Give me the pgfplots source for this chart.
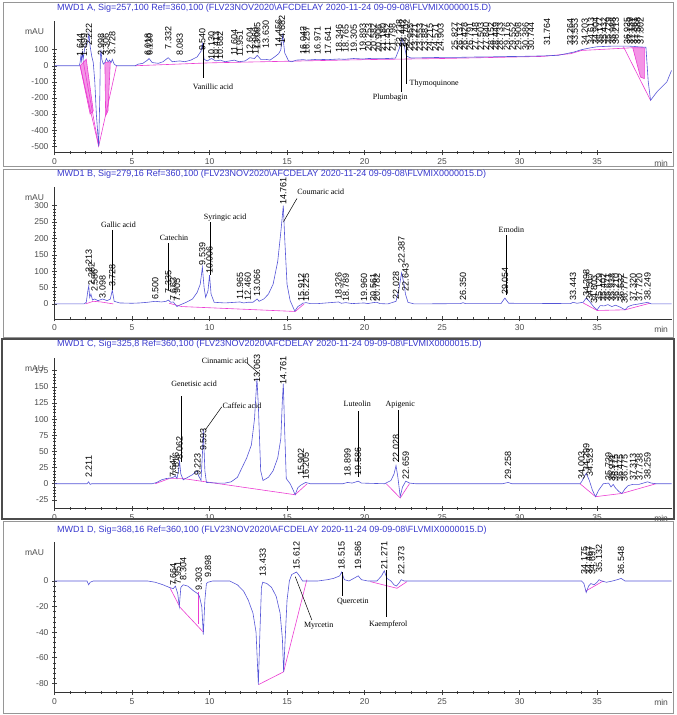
\documentclass[border=0pt]{standalone}
\usepackage{fontspec}
\setmainfont{Liberation Sans}
\newfontfamily\annfont{Liberation Serif}
\usepackage{pgfplots}
\pgfplotsset{compat=1.18}

\definecolor{trace}{RGB}{85,85,215}
\definecolor{integ}{RGB}{235,60,210}
\definecolor{titleblue}{RGB}{55,55,205}
\definecolor{framegray}{RGB}{150,150,150}

\pgfplotsset{chrom/.style={
    scale only axis, width=617pt, xmin=0, xmax=39.8,
    anchor=south west, clip=false,
    axis x line*=bottom, axis y line*=left,
    axis line style={black!80, line width=0.6pt},
    xtick={0,5,...,35}, minor x tick num=4, minor y tick num=4,
    tick align=center, major tick length=5pt, minor tick length=3pt,
    tick style={black!75, line width=0.5pt},
    ticklabel style={font=\fontsize{8.5}{10}\selectfont, text=black!70},
    /pgf/number format/assume math mode=true,
    scaled y ticks=false,
    every axis plot/.append style={line width=0.6pt},
  }}
\tikzset{
  rtl/.style={rotate=90, anchor=west, inner sep=0.6pt, font=\fontsize{9}{9}\selectfont},
  annl/.style={font=\annfont\fontsize{8}{9}\selectfont, inner sep=0},
}
% retention time label: x, base, text
\newcommand\rt[3]{\node[rtl] at (axis cs:#1,#2) {#3};}
\newcommand\ann[3]{\node[annl] at (axis cs:#1,#2) {#3};}
\newcommand\unitlabels{%
  \node[anchor=north east, font=\fontsize{8.5}{10}\selectfont, text=black!70, xshift=-7pt] at (rel axis cs:0,0.97) {mAU};
  \node[anchor=north east, font=\fontsize{8.5}{10}\selectfont, text=black!70, yshift=-4pt] at (rel axis cs:1,0) {min};}

\begin{document}
\begin{tikzpicture}
\useasboundingbox (0,0) rectangle (677pt,715pt);

% ---------------- panel A ----------------
\begin{axis}[chrom, at={(54.5pt,562.3pt)}, height=131.7pt,
  ymin=-540, ymax=278, ytick={-500,-400,...,100}]
\addplot[integ, fill=integ!55] coordinates {(1.65,0) (2.05,40) (2.5,-280) (2.3,-300) (1.65,0)};
\addplot[integ, fill=integ!55] coordinates {(3.25,20) (3.6,25) (3.45,-280) (3.3,-310) (3.25,20)};
\addplot[integ, fill=integ!55] coordinates {(37.3,112) (38.05,112) (38.05,-80) (37.8,-70) (37.3,112)};
\addplot[integ] coordinates {(1.65,0) (2.85,-500) (4.0,0)};
\addplot[integ] coordinates {(1.85,30) (2.85,-500)};
\addplot[integ] coordinates {(36.7,118) (38.45,-215)};
\addplot[integ] coordinates {(5.2,0) (10,18) (15,28) (20,38) (25,45) (30,55) (31.5,58) (33.3,75) (34,95) (37.3,112)};
\addplot[trace] coordinates {
(0,0) (1.60,0) (1.65,20) (1.70,60) (1.75,30) (1.80,90) (1.85,40) (1.95,110) (2.05,130) (2.15,150)
(2.22,200) (2.30,120) (2.40,60) (2.50,20) (2.60,-100) (2.70,-300) (2.85,-500) (2.92,-200) (2.96,60)
(3.00,100) (3.05,40) (3.15,10) (3.25,20) (3.35,45) (3.45,25) (3.55,35) (3.65,20) (3.73,40) (3.85,10)
(4.00,0) (5.20,0) (5.40,10) (5.70,15) (6.00,35) (6.10,45) (6.30,20) (6.70,15) (7.00,25) (7.33,50)
(7.60,25) (8.08,30) (8.40,25) (8.80,35) (9.20,55) (9.45,90) (9.54,135) (9.65,40) (9.85,30) (10.13,45)
(10.4,30) (10.7,35) (11.0,25) (11.3,30) (11.6,35) (11.9,25) (12.3,30) (12.6,50) (12.9,45) (13.08,65)
(13.3,40) (13.63,40) (13.9,35) (14.2,55) (14.46,75) (14.6,100) (14.72,190) (14.85,80) (15.1,30)
(15.3,25) (15.6,35) (16.04,38) (16.25,35) (16.97,40) (17.64,38) (18.35,42) (18.7,40) (19.3,45)
(19.9,42) (20.25,45) (20.9,44) (21.5,45) (22.0,48) (22.25,110) (22.40,170) (22.55,130) (22.7,60)
(23.0,48) (24,50) (25,52) (26,52) (27,54) (28,55) (29,57) (30,58) (31,60) (31.76,62) (32.5,65)
(33.26,80) (33.5,85) (34.0,100) (34.5,110) (35,118) (35.5,120) (36,122) (36.5,122) (37,122)
(37.4,120) (37.6,118) (38.15,115) (38.3,-100) (38.45,-215) (38.88,-160) (39.5,-100) (39.8,-30)};
% leader lines
\addplot[black, line width=0.5pt] coordinates {(9.57,141) (9.57,-78)};
\addplot[black, line width=0.5pt] coordinates {(22.37,141) (22.37,-165)};
\addplot[black, line width=0.5pt] coordinates {(22.69,141) (22.69,-115)};
\ann{10.23}{-132}{Vanillic acid}
\ann{21.66}{-195}{Plumbagin}
\node[annl, anchor=west] at (axis cs:22.9,-112) {Thymoquinone};
\rt{1.644}{55}{1.644} \rt{1.899}{55}{1.899} \rt{2.222}{120}{2.222} \rt{2.998}{56}{2.998}
\rt{3.306}{56}{3.306} \rt{3.728}{66}{3.728} \rt{6.018}{56}{6.018} \rt{6.130}{56}{6.130}
\rt{7.332}{97}{7.332} \rt{8.083}{56}{8.083} \rt{9.540}{87}{9.540} \rt{10.130}{35}{10.130}
\rt{10.413}{35}{10.413} \rt{10.682}{35}{10.682} \rt{11.604}{56}{11.604} \rt{11.951}{50}{11.951}
\rt{12.604}{62}{12.604} \rt{12.960}{62}{12.960} \rt{13.085}{93}{13.085} \rt{13.630}{105}{13.630}
\rt{14.456}{110}{14.456} \rt{14.682}{135}{14.682}
\rt{16.042}{66}{16.042} \rt{16.257}{66}{16.257} \rt{16.971}{66}{16.971} \rt{17.641}{66}{17.641}
\rt{18.346}{78}{18.346} \rt{18.765}{78}{18.765} \rt{19.305}{78}{19.305} \rt{19.893}{85}{19.893}
\rt{20.253}{85}{20.253} \rt{20.582}{85}{20.582} \rt{20.906}{78}{20.906} \rt{21.180}{85}{21.180}
\rt{21.452}{85}{21.452} \rt{21.798}{85}{21.798} \rt{22.238}{110}{22.238} \rt{22.442}{110}{22.442}
\rt{22.702}{110}{22.702} \rt{22.955}{85}{22.955} \rt{23.221}{85}{23.221} \rt{23.553}{85}{23.553}
\rt{23.887}{85}{23.887} \rt{24.215}{85}{24.215} \rt{24.571}{85}{24.571} \rt{24.903}{85}{24.903}
\rt{25.827}{90}{25.827} \rt{26.137}{90}{26.137} \rt{26.428}{90}{26.428} \rt{26.791}{90}{26.791}
\rt{27.148}{90}{27.148} \rt{27.503}{90}{27.503} \rt{27.840}{90}{27.840} \rt{28.152}{90}{28.152}
\rt{28.449}{90}{28.449} \rt{28.733}{90}{28.733} \rt{29.176}{90}{29.176} \rt{29.552}{90}{29.552}
\rt{29.908}{90}{29.908} \rt{30.386}{90}{30.386} \rt{30.744}{90}{30.744} \rt{31.764}{118}{31.764}
\rt{33.264}{118}{33.264} \rt{33.553}{118}{33.553} \rt{34.203}{118}{34.203} \rt{34.613}{125}{34.613}
\rt{34.904}{125}{34.904} \rt{35.177}{125}{35.177} \rt{35.432}{125}{35.432} \rt{35.729}{125}{35.729}
\rt{35.988}{125}{35.988} \rt{36.213}{125}{36.213} \rt{36.925}{125}{36.925} \rt{37.139}{125}{37.139}
\rt{37.361}{125}{37.361} \rt{37.588}{125}{37.588} \rt{37.802}{125}{37.802}
\unitlabels
\end{axis}

% ---------------- panel B ----------------
\begin{axis}[chrom, at={(54.5pt,396pt)}, height=132pt,
  ymin=-46, ymax=357, ytick={0,50,...,300}]
\addplot[integ] coordinates {(2.0,0) (2.5,8) (3.0,6) (3.8,0)};
\addplot[integ] coordinates {(7.4,2) (8.2,-8) (15.53,-23) (16.1,0)};
\addplot[integ] coordinates {(34.1,3) (35.0,-20) (36.8,-18) (38.4,2)};
\addplot[trace] coordinates {
(0,0) (1.9,0) (2.05,5) (2.15,40) (2.21,55) (2.27,20) (2.35,30) (2.45,12) (2.6,15) (2.8,10) (3.1,15)
(3.4,10) (3.6,15) (3.73,42) (3.85,8) (4.2,3) (5.0,2) (5.5,3) (6.0,5) (6.5,8) (6.9,6) (7.2,8)
(7.34,12) (7.5,5) (7.66,6) (7.9,-8) (8.1,-3) (8.5,5) (8.9,15) (9.2,35) (9.4,60) (9.54,112)
(9.65,50) (9.75,20) (9.9,40) (10.0,88) (10.1,30) (10.3,5) (11,3) (11.96,6) (12.2,3) (12.46,5)
(12.8,5) (13.07,15) (13.2,8) (13.5,15) (13.8,30) (14.1,60) (14.4,130) (14.6,220) (14.76,300)
(14.85,200) (15.0,60) (15.2,10) (15.5,-22) (15.7,-8) (15.91,-2) (16.0,2) (16.23,4) (16.5,1)
(17,1) (18.33,6) (18.5,2) (18.79,4) (19.2,1) (19.96,3) (20.2,1) (20.56,4) (20.78,5) (21.0,1)
(21.5,0) (22.03,8) (22.2,40) (22.39,95) (22.55,60) (22.64,30) (22.8,5) (23.2,0) (26.2,1)
(26.35,4) (26.5,1) (28.8,1) (29.05,18) (29.3,2) (33.3,1) (33.44,5) (33.7,2) (34.1,5) (34.3,18)
(34.5,8) (34.8,-10) (35.0,-18) (35.2,-5) (35.45,-6) (35.7,-2) (35.95,-8) (36.2,-4) (36.5,-10)
(36.8,-18) (37.0,-8) (37.3,-3) (37.7,0) (38.25,5) (38.5,0) (39.8,0)};
\addplot[black, line width=0.5pt] coordinates {(3.73,226) (3.73,43)};
\addplot[black, line width=0.5pt] coordinates {(7.31,186) (7.31,43)};
\addplot[black, line width=0.5pt] coordinates {(10.04,250) (10.04,88)};
\addplot[black, line width=0.5pt] coordinates {(15.64,322) (14.77,251)};
\addplot[black, line width=0.5pt] coordinates {(29.13,210) (29.13,27)};
\ann{4.13}{241}{Gallic acid}
\ann{7.71}{201}{Catechin}
\ann{11.0}{265}{Syringic acid}
\node[annl, anchor=west] at (axis cs:15.65,341) {Coumaric acid};
\ann{29.47}{226}{Emodin}
\rt{2.213}{95}{2.213} \rt{2.382}{55}{2.382} \rt{2.586}{35}{2.586} \rt{3.098}{15}{3.098}
\rt{3.728}{50}{3.728} \rt{6.500}{10}{6.500} \rt{7.335}{30}{7.335} \rt{7.663}{8}{7.663}
\rt{7.905}{5}{7.905} \rt{9.539}{115}{9.539} \rt{10.006}{90}{10.006} \rt{11.965}{12}{11.965}
\rt{12.460}{8}{12.460} \rt{13.066}{20}{13.066} \rt{14.761}{300}{14.761} \rt{15.912}{5}{15.912}
\rt{16.225}{5}{16.225} \rt{18.326}{10}{18.326} \rt{18.789}{5}{18.789} \rt{19.960}{5}{19.960}
\rt{20.561}{5}{20.561} \rt{20.782}{5}{20.782} \rt{22.028}{12}{22.028} \rt{22.387}{120}{22.387}
\rt{22.643}{37}{22.643} \rt{26.350}{8}{26.350} \rt{29.054}{25}{29.054} \rt{33.443}{8}{33.443}
\rt{34.298}{20}{34.298} \rt{34.517}{8}{34.517} \rt{34.803}{0}{34.803} \rt{35.129}{5}{35.129}
\rt{35.402}{5}{35.402} \rt{35.671}{5}{35.671} \rt{35.938}{5}{35.938} \rt{36.210}{5}{36.210}
\rt{36.532}{5}{36.532} \rt{36.777}{0}{36.777} \rt{37.320}{5}{37.320} \rt{37.720}{5}{37.720}
\rt{38.249}{8}{38.249}
\unitlabels
\end{axis}

% ---------------- panel C ----------------
\begin{axis}[chrom, at={(54.5pt,206.7pt)}, height=150.6pt,
  ymin=-38, ymax=195, ytick={-25,0,...,175}]
\addplot[integ] coordinates {(6.5,0) (7.4,8) (8.3,8) (15.52,-17) (16.3,0)};
\addplot[integ] coordinates {(21.4,0) (22.3,-22) (22.9,0)};
\addplot[integ] coordinates {(33.9,0) (34.9,-20) (36.6,-15) (38.8,0)};
\addplot[trace] coordinates {
(0,0) (2.1,0) (2.2,3) (2.3,-1) (2.4,0) (6.3,0) (6.6,2) (6.9,6) (7.2,8) (7.5,9) (7.65,10) (7.8,12)
(7.9,8) (8.0,20) (8.06,36) (8.15,15) (8.3,6) (8.6,10) (8.9,14) (9.2,20) (9.3,12) (9.45,5)
(9.55,50) (9.6,84) (9.7,20) (9.8,2) (10.5,1) (11.0,1) (11.4,3) (11.8,10) (12.1,25) (12.4,40)
(12.7,60) (12.9,100) (13.0,140) (13.06,163) (13.15,120) (13.3,20) (13.45,5) (13.8,10) (14.1,20)
(14.4,40) (14.6,70) (14.7,130) (14.76,155) (14.85,80) (14.95,8) (15.2,0) (15.4,-10) (15.52,-17)
(15.7,-6) (15.9,-2) (16.2,2) (16.5,0) (18.6,0) (18.9,2) (19.2,1) (19.59,4) (19.8,1) (21.3,0)
(21.7,5) (21.9,15) (22.03,28) (22.15,10) (22.3,-20) (22.45,-5) (22.66,4) (22.9,1) (23.3,0)
(28.9,0) (29.26,2) (29.5,0) (33.9,0) (34.0,3) (34.2,12) (34.3,16) (34.5,5) (34.7,-10) (34.9,-20)
(35.1,-10) (35.4,0) (35.74,1) (35.9,-5) (36.04,-1) (36.17,-6) (36.4,-12) (36.6,-15) (36.8,-8)
(37.0,-3) (37.3,-1) (37.7,-1) (38.26,3) (38.5,1) (38.8,0) (39.8,0)};
\addplot[black, line width=0.5pt] coordinates {(8.17,135) (8.17,34)};
\addplot[black, line width=0.5pt] coordinates {(12.41,187) (13.16,171)};
\addplot[black, line width=0.5pt] coordinates {(10.79,119) (9.72,83)};
\addplot[black, line width=0.5pt] coordinates {(19.61,112) (19.61,11)};
\addplot[black, line width=0.5pt] coordinates {(22.16,114) (22.16,34)};
\ann{9.0}{155}{Genetisic acid}
\ann{11.0}{190}{Cinnamic acid}
\ann{12.1}{120}{Caffeic acid}
\ann{19.53}{123}{Luteolin}
\ann{22.3}{123}{Apigenic}
\rt{2.211}{8}{2.211} \rt{7.647}{8}{7.647} \rt{7.816}{12}{7.816} \rt{8.062}{37}{8.062}
\rt{9.223}{11}{9.223} \rt{9.593}{50}{9.593} \rt{13.063}{156}{13.063} \rt{14.761}{153}{14.761}
\rt{15.902}{11}{15.902} \rt{16.205}{5}{16.205} \rt{18.899}{10}{18.899} \rt{19.586}{12}{19.586}
\rt{22.028}{32}{22.028} \rt{22.659}{6}{22.659} \rt{29.258}{6}{29.258} \rt{34.003}{6}{34.003}
\rt{34.299}{18}{34.299} \rt{34.523}{10}{34.523} \rt{35.739}{4}{35.739} \rt{35.971}{2}{35.971}
\rt{36.175}{2}{36.175} \rt{36.475}{2}{36.475} \rt{36.775}{2}{36.775} \rt{37.313}{3}{37.313}
\rt{37.738}{3}{37.738} \rt{38.259}{5}{38.259}
\unitlabels
\end{axis}

% ---------------- panel D ----------------
\begin{axis}[chrom, at={(54.5pt,22.7pt)}, height=150.6pt,
  ymin=-87, ymax=30.7, ytick={-80,-60,...,0}]
\addplot[integ] coordinates {(7.46,-5.7) (8.1,-20.6) (9.6,-40)};
\addplot[integ] coordinates {(9.26,-9) (9.26,-34)};
\addplot[integ] coordinates {(13.16,-81) (14.78,-71) (16.28,1)};
\addplot[integ] coordinates {(20.37,-0.5) (22.09,-5.7) (22.74,-0.5)};
\addplot[integ] coordinates {(34.25,-8) (35.4,0)};
\addplot[trace] coordinates {
(0,0) (2.1,0) (2.2,-3) (2.3,-1) (2.5,0) (6.0,0) (6.5,-1) (7.0,-3) (7.4,-5) (7.66,-6) (7.8,-4)
(7.95,-10) (8.05,-20) (8.15,-5) (8.3,-3) (8.6,-4) (9.0,-8) (9.25,-10) (9.35,-12) (9.5,-20)
(9.6,-42) (9.7,-15) (9.8,-2) (9.9,-1) (10.2,0) (11.3,0) (11.8,-3) (12.2,-8) (12.5,-15) (12.8,-25)
(13.0,-40) (13.15,-81) (13.25,-40) (13.35,-5) (13.43,-1) (13.7,-2) (14.0,-5) (14.3,-12)
(14.55,-25) (14.7,-45) (14.78,-71) (14.9,-40) (15.0,-15) (15.15,0) (15.3,5) (15.61,7) (15.8,4)
(16.0,0) (17.0,0) (17.6,1) (18.0,2) (18.4,4) (18.52,7) (18.7,1) (19.0,0) (19.3,2) (19.59,4)
(19.8,1) (20.2,0) (20.8,0) (21.1,4) (21.27,8) (21.45,2) (21.7,0) (21.9,-3) (22.05,-4) (22.2,-2)
(22.37,1) (22.55,0) (23.0,0) (34.0,0) (34.15,-2) (34.3,-9) (34.45,-4) (34.6,-2) (34.8,-3)
(35.0,-1) (35.13,1) (35.3,0) (35.6,-1) (36.0,0) (36.3,1) (36.55,2) (36.8,0) (38.5,0) (39.8,0)};
\addplot[black, line width=0.5pt] coordinates {(16.6,-30.5) (15.53,3.4)};
\addplot[black, line width=0.5pt] coordinates {(18.54,7) (18.54,-12)};
\addplot[black, line width=0.5pt] coordinates {(21.38,8.6) (21.38,-28)};
\ann{17.04}{-35}{Myrcetin}
\ann{19.24}{-16}{Quercetin}
\ann{21.53}{-34}{Kaempferol}
\rt{7.664}{-4.4}{7.664} \rt{7.951}{-3}{7.951} \rt{8.304}{0}{8.304} \rt{9.303}{-8}{9.303}
\rt{9.898}{2}{9.898} \rt{13.433}{3}{13.433} \rt{15.612}{8.6}{15.612} \rt{18.515}{8.6}{18.515}
\rt{19.586}{8.6}{19.586} \rt{21.271}{8.6}{21.271} \rt{22.373}{4.7}{22.373} \rt{34.175}{4.7}{34.175}
\rt{34.467}{4.7}{34.467} \rt{34.697}{4.7}{34.697} \rt{35.132}{6}{35.132} \rt{36.548}{4.7}{36.548}
\unitlabels
\end{axis}

% panel frames and titles
\draw[framegray, line width=0.8pt] (3pt,713pt) rectangle (673pt,549pt);
\draw[framegray, line width=0.8pt] (3pt,546pt) rectangle (673pt,378pt);
\draw[black!70, line width=1.2pt] (2pt,376pt) rectangle (674pt,196pt);
\draw[framegray, line width=0.8pt] (3pt,194pt) rectangle (673pt,2pt);
\begin{scope}[every node/.style={anchor=west, text=titleblue, inner sep=0, font=\fontsize{9}{10}\selectfont}]
\node at (57pt,707pt) {MWD1 A, Sig=257,100 Ref=360,100 (FLV23NOV2020\textbackslash AFCDELAY 2020-11-24 09-09-08\textbackslash FLVMIX0000015.D)};
\node at (57pt,541pt) {MWD1 B, Sig=279,16 Ref=360,100 (FLV23NOV2020\textbackslash AFCDELAY 2020-11-24 09-09-08\textbackslash FLVMIX0000015.D)};
\node at (57pt,371pt) {MWD1 C, Sig=325,8 Ref=360,100 (FLV23NOV2020\textbackslash AFCDELAY 2020-11-24 09-09-08\textbackslash FLVMIX0000015.D)};
\node at (57pt,185pt) {MWD1 D, Sig=368,16 Ref=360,100 (FLV23NOV2020\textbackslash AFCDELAY 2020-11-24 09-09-08\textbackslash FLVMIX0000015.D)};
\end{scope}
\end{tikzpicture}
\end{document}
